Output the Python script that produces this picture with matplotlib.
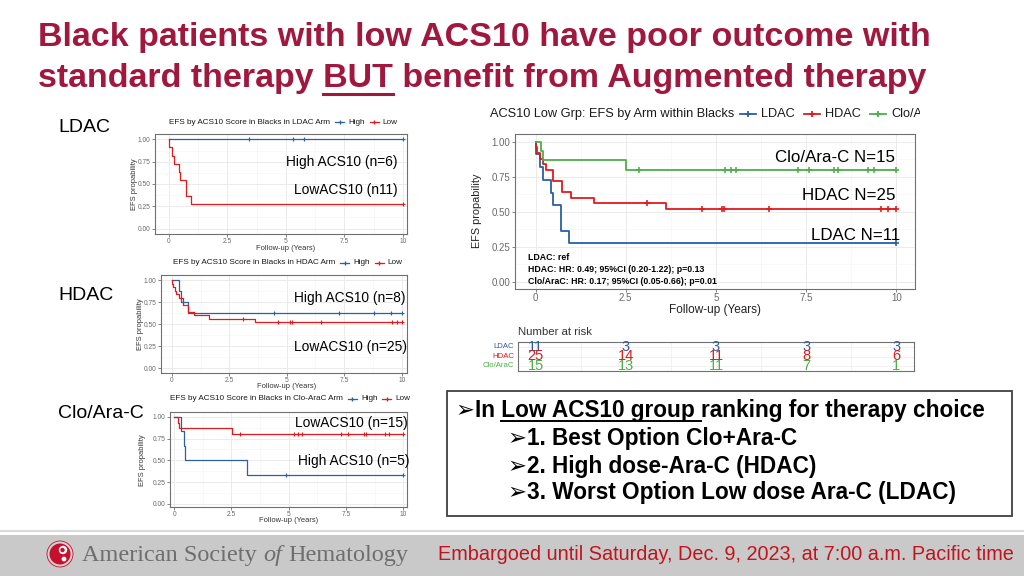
import matplotlib
matplotlib.use("Agg")
import matplotlib.pyplot as plt
import numpy as np
from matplotlib.lines import Line2D
from matplotlib.patches import Ellipse, Rectangle

# ---------------- data ----------------
# event times / survival after each drop, censor times (years)
ldac_low_t = [0.02, 0.11, 0.20, 0.42, 0.48, 0.71, 0.94]
ldac_low_s = [0.909, 0.818, 0.727, 0.636, 0.545, 0.364, 0.273]
ldac_low_cens = [10.0]
ldac_high_t = []
ldac_high_s = []
ldac_high_cens = [3.4, 5.3, 5.78, 10.0]

hdac_low_t = [0.01, 0.05, 0.12, 0.20, 0.30, 0.48, 0.72, 0.98, 1.62, 3.63]
hdac_low_s = [0.96, 0.92, 0.88, 0.84, 0.80, 0.72, 0.64, 0.60, 0.56, 0.52]
hdac_low_cens = [3.1, 4.62, 5.16, 5.22, 6.47, 9.57, 9.78, 10.0]
hdac_high_t = [0.32, 0.39, 0.72]
hdac_high_s = [0.875, 0.75, 0.625]
hdac_high_cens = [4.45, 7.29, 8.81, 9.52, 10.0]

clo_low_t = [0.15, 0.21, 2.51]
clo_low_s = [0.933, 0.867, 0.80]
clo_low_cens = [2.88, 5.24, 5.42, 5.56, 7.29, 7.57, 8.27, 8.39, 9.21, 9.39, 10.0]
clo_high_t = [0.31, 0.41, 0.49, 3.17]
clo_high_s = [0.833, 0.667, 0.50, 0.333]
clo_high_cens = [4.87, 10.0]

risk_times = [0, 2.5, 5, 7.5, 10]
risk_ldac = [11, 3, 3, 3, 3]
risk_hdac = [25, 14, 11, 8, 6]
risk_clo = [15, 13, 11, 7, 1]

x_ticks = [0, 2.5, 5, 7.5, 10]
x_tick_labels = ["0", "2.5", "5", "7.5", "10"]
y_ticks = [0, 0.25, 0.5, 0.75, 1.0]
y_tick_labels = ["0.00", "0.25", "0.50", "0.75", "1.00"]

hr_lines = [
    "LDAC: ref",
    "HDAC: HR: 0.49; 95%CI (0.20-1.22); p=0.13",
    "Clo/AraC: HR: 0.17; 95%CI (0.05-0.66); p=0.01",
]
bullets = [
    "1. Best Option Clo+Ara-C",
    "2. High dose-Ara-C (HDAC)",
    "3. Worst Option Low dose Ara-C (LDAC)",
]

BLUE = "#2B5FA6"
RED = "#E3191C"
GREEN = "#4DAF4A"
TITLE_C = "#A0183E"

W, H = 1024, 576
SANS = ["Liberation Sans", "DejaVu Sans"]
SERIF = ["Liberation Serif", "DejaVu Serif"]
plt.rcParams["font.family"] = SANS

fig = plt.figure(figsize=(W / 100, H / 100), dpi=100)
fig.patch.set_facecolor("white")
renderer = fig.canvas.get_renderer()


def fx(px):
    return px / W


def fy(py):
    return 1 - py / H


def px_axes(left, top, right, bottom):
    return fig.add_axes([fx(left), fy(bottom), (right - left) / W, (bottom - top) / H])


def measure(s, **kw):
    t = fig.text(0, 0, s, **kw)
    w = t.get_window_extent(renderer=renderer).width
    t.remove()
    return w


def fit_text(x, y, s, target_w, fs=12, **kw):
    t = fig.text(fx(x), fy(y), s, fontsize=fs, **kw)
    w = t.get_window_extent(renderer=renderer).width
    t.set_fontsize(fs * target_w / w)
    return t


def surv_at(t, s, c):
    i = np.searchsorted(t, c, side="right")
    return 1.0 if i == 0 else s[i - 1]


def km_panel(box, xlim, ylim, curves, tick_fs, lw, ms):
    ax = px_axes(*box)
    for t, s, cens, color in curves:
        xs = [0] + t + [10]
        ys = [1.0] + s + [s[-1] if s else 1.0]
        ax.step(xs, ys, where="post", color=color, lw=lw, zorder=3)
        ax.plot(cens, [surv_at(t, s, c) for c in cens], ls="none", marker="+",
                color=color, ms=ms, mew=lw * 0.9, zorder=3)
    ax.set_xlim(*xlim)
    ax.set_ylim(*ylim)
    ax.set_xticks(x_ticks, x_tick_labels)
    ax.set_yticks(y_ticks, y_tick_labels)
    ax.set_xticks([1.25, 3.75, 6.25, 8.75], minor=True)
    ax.set_yticks([0.125, 0.375, 0.625, 0.875], minor=True)
    ax.grid(which="major", color="#EBEBEB", lw=0.7)
    ax.grid(which="minor", color="#F3F3F3", lw=0.4)
    ax.set_axisbelow(True)
    ax.tick_params(which="major", labelsize=tick_fs, colors="#555555", labelcolor="#6A6A6A",
                   length=2, width=0.5, pad=1.2)
    ax.tick_params(which="minor", length=0)
    for sp in ax.spines.values():
        sp.set_color("#707070")
        sp.set_linewidth(0.8)
    return ax


def legend_strip(x, y, title, items, fs, key_len, gaps, clip=None, lw=1.0, ms=4):
    # gaps: (title->key, key->label, label->next key)
    t = fig.text(fx(x), fy(y), title, fontsize=fs, va="center", color="#1A1A1A")
    arts = [t]
    cur = x + t.get_window_extent(renderer=renderer).width + gaps[0]
    for label, color in items:
        ln = Line2D([fx(cur), fx(cur + key_len)], [fy(y), fy(y)], color=color, lw=lw)
        mk = Line2D([fx(cur + key_len / 2)], [fy(y)], color=color, marker="+", ms=ms, mew=lw)
        fig.add_artist(ln)
        fig.add_artist(mk)
        arts += [ln, mk]
        cur += key_len + gaps[1]
        t = fig.text(fx(cur), fy(y), label, fontsize=fs, va="center", color="#1A1A1A")
        arts.append(t)
        cur += t.get_window_extent(renderer=renderer).width + gaps[2]
    if clip is not None:
        for a in arts:
            a.set_clip_on(True)
            a.set_clip_box(clip)


# ---------------- title ----------------
tkw = dict(family=SANS, weight="bold", color=TITLE_C, va="baseline")
t1 = fit_text(38, 46, "Black patients with low ACS10 have poor outcome with", 894, fs=28, **tkw)
tfs = t1.get_fontsize()
fig.text(fx(38), fy(87), "standard therapy BUT benefit from Augmented therapy", fontsize=tfs, **tkw)
mkw = dict(fontsize=tfs, family=SANS, weight="bold")
u_end = 38 + measure("standard therapy BUT", **mkw)
u_start = u_end - measure("BUT", **mkw)
fig.add_artist(Line2D([fx(u_start), fx(u_end)], [fy(94), fy(94)], color=TITLE_C, lw=2.2))

# ---------------- left row labels ----------------
for lab, yy in [("LDAC", 128), ("HDAC", 295), ("Clo/Ara-C", 414)]:
    fig.text(fx(58), fy(yy), lab, fontsize=14, va="center", color="black")

# ---------------- small KM panels ----------------
small = [
    dict(box=(155, 134, 407, 234), xlim=(-0.6, 10.18), ylim=(-0.06, 1.06),
         curves=[(ldac_high_t, ldac_high_s, ldac_high_cens, BLUE),
                 (ldac_low_t, ldac_low_s, ldac_low_cens, RED)],
         title="EFS by ACS10 Score in Blacks in LDAC Arm", tpos=(169, 122),
         xlab=(286, 248), ylab=(135, 184),
         notes=[("High ACS10 (n=6)", 398, 162), ("LowACS10 (n11)", 398, 190)]),
    dict(box=(161, 275, 407, 373), xlim=(-0.47, 10.23), ylim=(-0.053, 1.057),
         curves=[(hdac_high_t, hdac_high_s, hdac_high_cens, BLUE),
                 (hdac_low_t, hdac_low_s, hdac_low_cens, RED)],
         title="EFS by ACS10 Score in Blacks in HDAC Arm", tpos=(173, 263),
         xlab=(287, 386), ylab=(141, 324),
         notes=[("High ACS10 (n=8)", 405, 298), ("LowACS10 (n=25)", 407, 347)]),
    dict(box=(170, 412, 407, 507), xlim=(-0.18, 10.16), ylim=(-0.035, 1.054),
         curves=[(clo_high_t, clo_high_s, clo_high_cens, BLUE),
                 (clo_low_t, clo_low_s, clo_low_cens, RED)],
         title="EFS by ACS10 Score in Blacks in Clo-AraC Arm", tpos=(170, 399),
         xlab=(289, 521), ylab=(143, 460),
         notes=[("LowACS10 (n=15)", 408, 423), ("High ACS10 (n=5)", 410, 461)]),
]

for i, p in enumerate(small):
    ax = km_panel(p["box"], p["xlim"], p["ylim"], p["curves"], tick_fs=4.8, lw=0.9, ms=3)
    for s, xr, yy in p["notes"]:
        fig.text(fx(xr), fy(yy), s, fontsize=9.9, ha="right", va="center", color="black")
    fig.text(fx(p["xlab"][0]), fy(p["xlab"][1]), "Follow-up (Years)", fontsize=5.4,
             ha="center", va="center", color="#333333")
    fig.text(fx(p["ylab"][0]), fy(p["ylab"][1]), "EFS propability", fontsize=5.4,
             ha="center", va="center", rotation=90, color="#333333")
    if i == 2:
        # picture of the third panel sits over the x label of the second
        fig.add_artist(Rectangle((fx(125), fy(408)), 290 / W, 18 / H, transform=fig.transFigure,
                                 facecolor="white", edgecolor="none", zorder=2))
    legend_strip(p["tpos"][0], p["tpos"][1], p["title"], [("High", BLUE), ("Low", RED)],
                 fs=5.9, key_len=9, gaps=(5, 4, 5), lw=0.9, ms=3)

# ---------------- big KM panel ----------------
axb = km_panel((515, 134, 915, 289), (-0.57, 10.52), (-0.052, 1.055),
               [(ldac_low_t, ldac_low_s, ldac_low_cens, BLUE),
                (hdac_low_t, hdac_low_s, hdac_low_cens, RED),
                (clo_low_t, clo_low_s, clo_low_cens, GREEN)],
               tick_fs=7, lw=1.3, ms=5)
for s, xr, yy in [("Clo/Ara-C N=15", 895, 157), ("HDAC N=25", 896, 195), ("LDAC N=11", 900, 235)]:
    fig.text(fx(xr), fy(yy), s, fontsize=12.2, ha="right", va="center", color="black")
for s, yy in zip(hr_lines, [257, 269.5, 281.5]):
    fig.text(fx(528), fy(yy), s, fontsize=6.3, weight="bold", va="center", color="black")
fig.text(fx(715), fy(310.5), "Follow-up (Years)", fontsize=8.5, ha="center", va="center",
         color="#222222")
fig.text(fx(477), fy(211), "EFS propability", fontsize=7.8, ha="center", va="center",
         rotation=90, color="#222222")

hdr = px_axes(465, 100, 920, 128)
hdr.axis("off")
legend_strip(490, 114, "ACS10 Low Grp: EFS by Arm within Blacks",
             [("LDAC", BLUE), ("HDAC", RED), ("Clo/AraC", GREEN)],
             fs=9.2, key_len=16, gaps=(6, 5, 9), clip=hdr.bbox, lw=1.3, ms=5)

# ---------------- number at risk ----------------
fig.text(fx(518), fy(332), "Number at risk", fontsize=8.2, va="center", color="#333333")
axr = px_axes(518, 342, 914, 371)
axr.set_xlim(-0.49, 10.49)
axr.set_ylim(0.5, 3.5)
axr.set_xticks(x_ticks)
axr.set_xticks([1.25, 3.75, 6.25, 8.75], minor=True)
axr.set_yticks([1, 2, 3])
axr.grid(which="both", color="#EFEFEF", lw=0.6)
axr.tick_params(which="both", length=0, labelbottom=False, labelleft=False)
axr.set_axisbelow(True)
for sp in axr.spines.values():
    sp.set_color("#707070")
    sp.set_linewidth(0.8)
for row, counts, color in [(3, risk_ldac, BLUE), (2, risk_hdac, RED), (1, risk_clo, GREEN)]:
    for t, n in zip(risk_times, counts):
        axr.text(t, row, str(n), fontsize=10.5, ha="center", va="center", color=color, clip_on=False)
for lab, yy, color in [("LDAC", 347, BLUE), ("HDAC", 356.7, RED), ("Clo/AraC", 365.7, GREEN)]:
    fig.text(fx(514), fy(yy), lab, fontsize=5.6, ha="right", va="center", color=color)

# ---------------- message box ----------------
fig.add_artist(Rectangle((fx(447), fy(516)), (1012 - 447) / W, (516 - 391) / H,
                         transform=fig.transFigure, facecolor="white", edgecolor="#404040", lw=1.3))
bkw = dict(family=SANS, weight="bold", color="black", va="center")
first = "\u27a2In Low ACS10 group ranking for therapy choice"
b1 = fit_text(456, 411, first, 532, fs=14, **bkw)
bfs = b1.get_fontsize()
mk = dict(fontsize=bfs, family=SANS, weight="bold")
ul_start = 456 + measure("\u27a2In Low", **mk) - measure("Low", **mk)
ul_end = 456 + measure("\u27a2In Low ACS10 group r", **mk) - measure("r", **mk)
fig.add_artist(Line2D([fx(ul_start), fx(ul_end)], [fy(421), fy(421)], color="black", lw=1.4))
for s, yy in zip(bullets, [439, 466, 493]):
    fig.text(fx(508), fy(yy), "\u27a2" + s, fontsize=bfs, **bkw)

# ---------------- footer ----------------
fig.add_artist(Line2D([0, 1], [fy(531), fy(531)], color="#DADADA", lw=1.5))
fig.add_artist(Rectangle((0, 0), 1, (576 - 535) / H, transform=fig.transFigure,
                         facecolor="#C9C9C9", edgecolor="none"))


def disc(cx, cy, r, **kw):
    fig.add_artist(Ellipse((fx(cx), fy(cy)), 2 * r / W, 2 * r / H, transform=fig.transFigure, **kw))


disc(60, 554, 13, facecolor="#D0D0D0", edgecolor="#C8102E", lw=0.6)
disc(60, 554, 10.5, facecolor="#C8102E", edgecolor="none")
disc(63, 550, 4.2, facecolor="white", edgecolor="none")
disc(64, 559, 2.4, facecolor="white", edgecolor="none")
disc(62.5, 550, 2.2, facecolor="#C8102E", edgecolor="none")

fkw = dict(family=SERIF, color="#6E6E6E", va="center")
ffs = 17
sp0 = measure("a a", fontsize=ffs, **fkw) - measure("aa", fontsize=ffs, **fkw)
full_w = (measure("American Society", fontsize=ffs, **fkw)
          + measure("of", fontsize=ffs, style="italic", **fkw)
          + measure("Hematology", fontsize=ffs, **fkw) + 2 * sp0)
ffs = ffs * 326 / full_w
sp_w = measure("a a", fontsize=ffs, **fkw) - measure("aa", fontsize=ffs, **fkw)
cur = 82
for s, style in [("American Society", "normal"), ("of", "italic"), ("Hematology", "normal")]:
    t = fig.text(fx(cur), fy(555), s, fontsize=ffs, style=style, **fkw)
    cur += t.get_window_extent(renderer=renderer).width + sp_w

fit_text(438, 555, "Embargoed until Saturday, Dec. 9, 2023, at 7:00 a.m. Pacific time", 574,
         fs=13, color="#C0141E", va="center")

fig.savefig("out.png", dpi=100, facecolor="white")
